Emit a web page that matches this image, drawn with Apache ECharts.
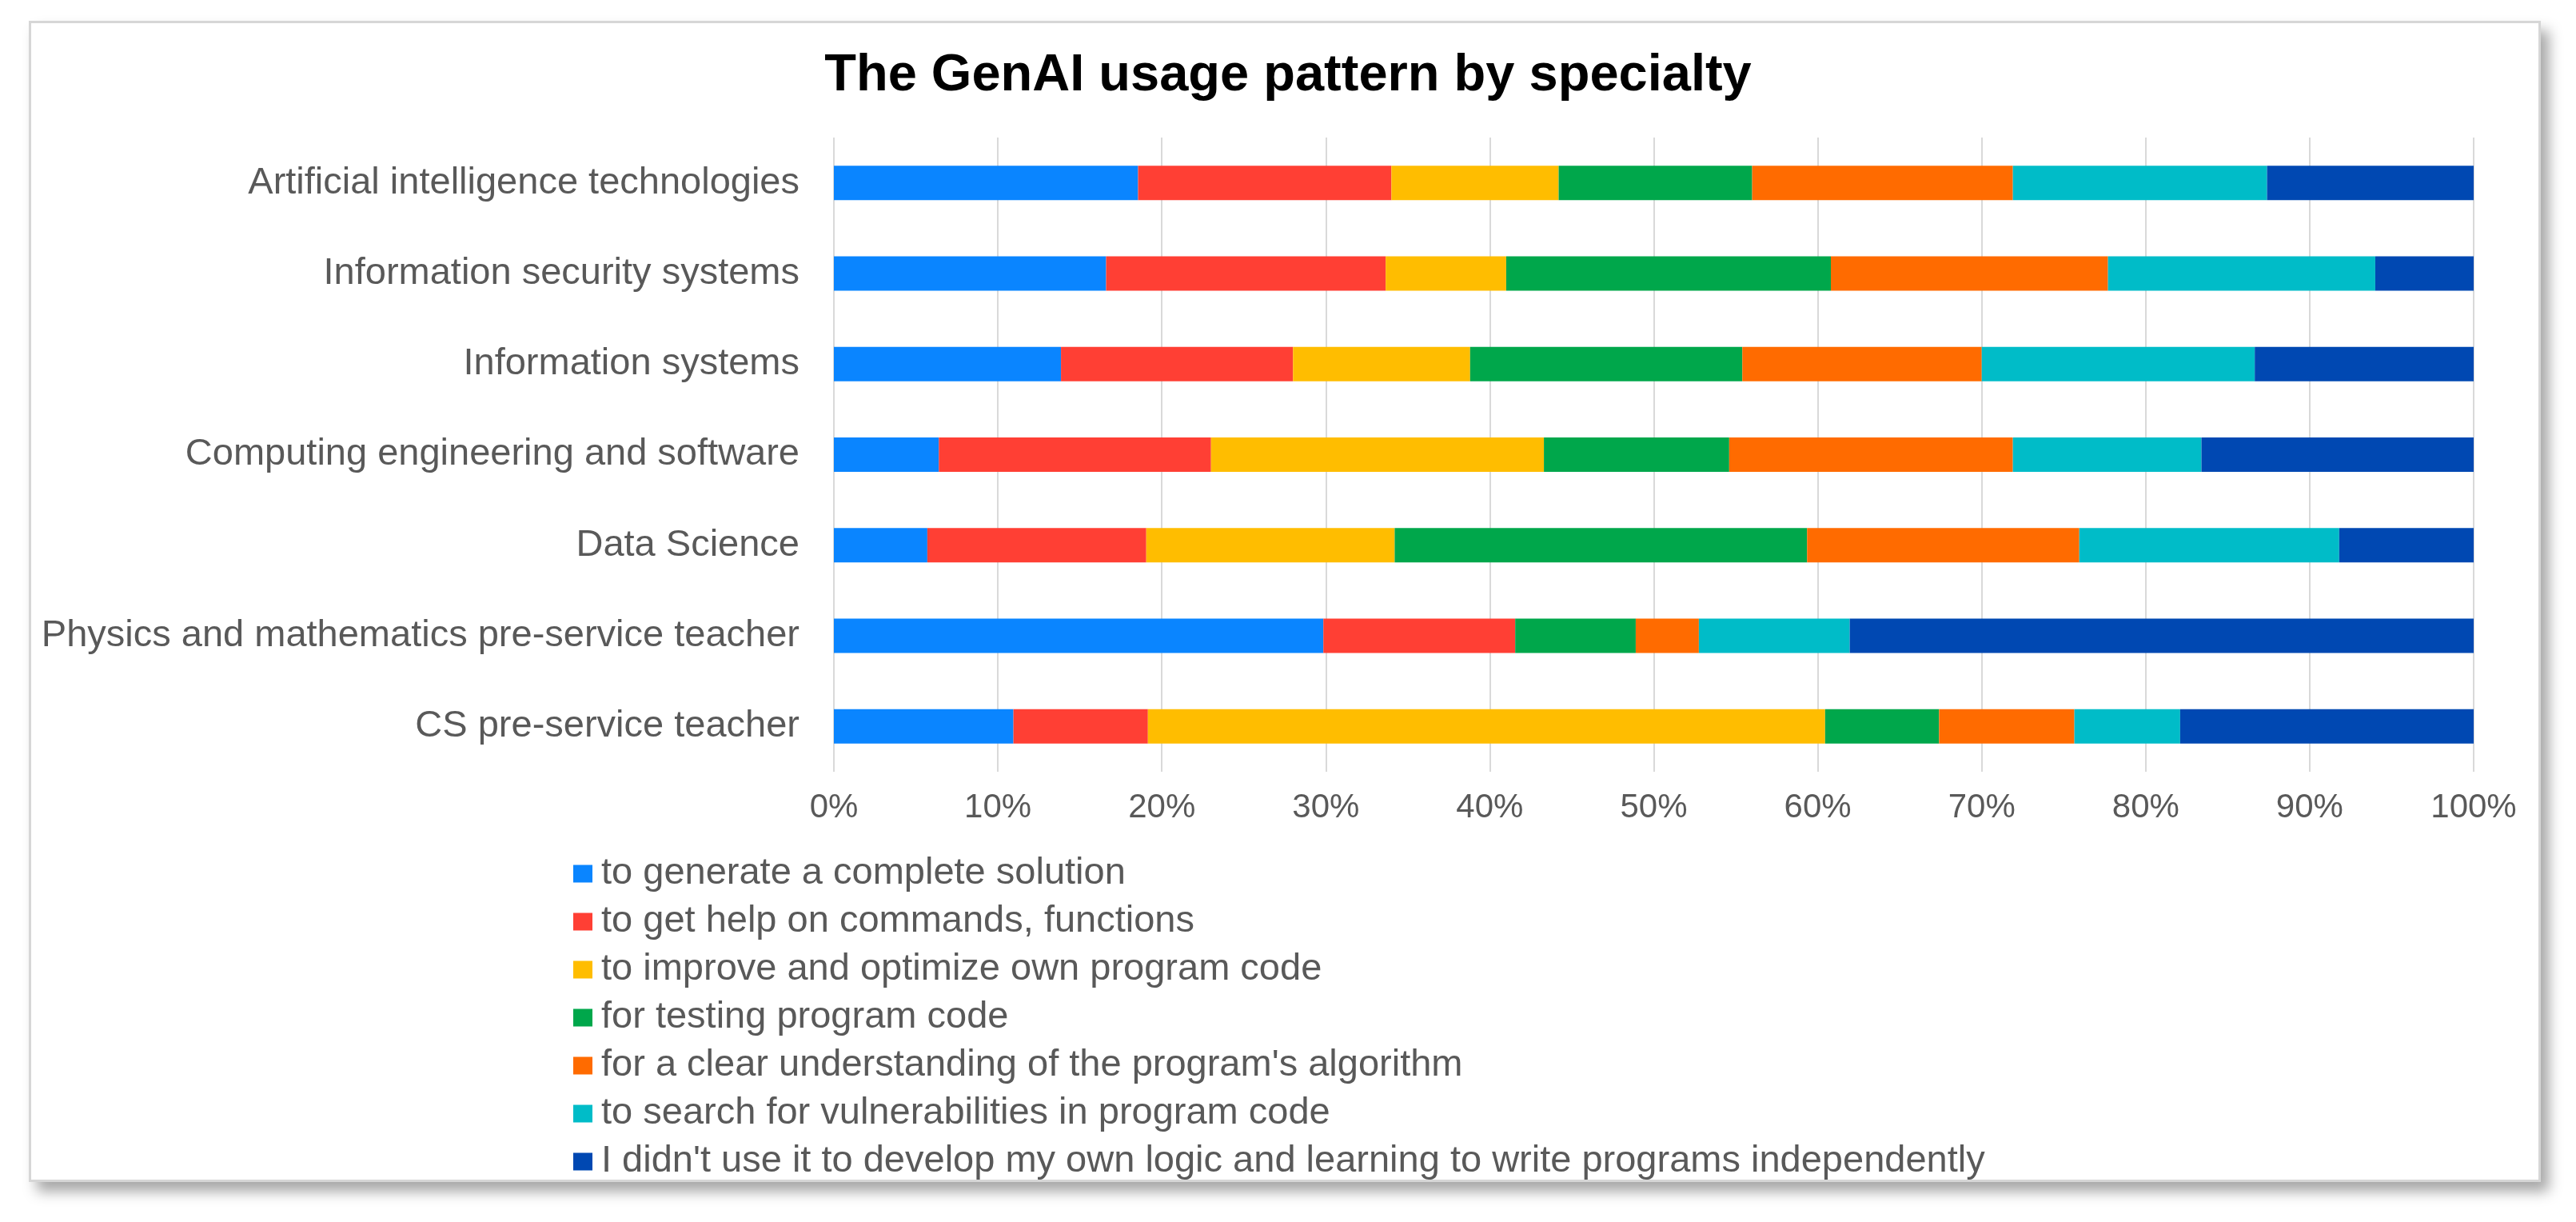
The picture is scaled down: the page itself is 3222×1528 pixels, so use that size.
<!DOCTYPE html>
<html>
<head>
<meta charset="utf-8">
<script src="https://cdn.jsdelivr.net/npm/echarts@6/dist/echarts.min.js"></script>
<style>
  html, body { margin: 0; padding: 0; background: #fff; }
  #frame {
    position: absolute; left: 36px; top: 26px; width: 3136px; height: 1446px;
    border: 3px solid #d6d6d6; background: #fff;
    box-shadow: 10px 12px 16px rgba(0, 0, 0, 0.35);
  }
  #chart { position: absolute; left: 0; top: 0; width: 3222px; height: 1528px; }
</style>
</head>
<body>
<div id="frame"></div>
<div id="chart"></div>
<script>
var categories = [
  'Artificial intelligence technologies',
  'Information security systems',
  'Information systems',
  'Computing engineering and software',
  'Data Science',
  'Physics and mathematics pre-service teacher',
  'CS pre-service teacher'
];

var seriesNames = [
  'to generate a complete solution',
  'to get help on commands, functions',
  'to improve and optimize own program code',
  'for testing program code',
  "for a clear understanding of the program's algorithm",
  'to search for vulnerabilities in program code',
  "I didn't use it to develop my own logic and learning to write programs independently"
];

// share of answers in % per specialty (same order as categories)
var generateSolution = [18.55, 16.6, 13.85, 6.4, 5.7, 29.85, 10.95];
var helpCommands = [15.45, 17.05, 14.15, 16.6, 13.35, 11.7, 8.2];
var improveCode = [10.2, 7.35, 10.8, 20.3, 15.15, 0, 41.3];
var testingCode = [11.8, 19.8, 16.6, 11.3, 25.15, 7.35, 6.95];
var understandAlgorithm = [15.9, 16.9, 14.6, 17.3, 16.6, 3.85, 8.25];
var searchVulnerabilities = [15.5, 16.3, 16.65, 11.5, 15.85, 9.2, 6.45];
var notUsed = [12.6, 6.0, 13.35, 16.6, 8.2, 38.05, 17.9];

var xTicks = [0, 10, 20, 30, 40, 50, 60, 70, 80, 90, 100];

var colors = ['#0a85ff', '#ff3f34', '#ffbd00', '#00a74b', '#ff6b00', '#00bcc8', '#0048b2'];
var values = [generateSolution, helpCommands, improveCode, testingCode,
  understandAlgorithm, searchVulnerabilities, notUsed];

var myChart = echarts.init(document.getElementById('chart'));
var option;

option = {
  backgroundColor: 'transparent',
  animation: false,
  color: colors,
  title: {
    text: 'The GenAI usage pattern by specialty',
    left: 'center',
    top: 63,
    padding: 0,
    textStyle: {
      fontFamily: 'Liberation Sans',
      fontWeight: 'bold',
      fontSize: 65,
      color: '#000'
    }
  },
  legend: {
    orient: 'vertical',
    left: 712,
    top: 1064,
    icon: 'rect',
    itemWidth: 24,
    itemHeight: 22,
    itemGap: 13,
    data: seriesNames,
    textStyle: {
      fontFamily: 'Liberation Sans',
      fontSize: 47,
      lineHeight: 47,
      color: '#595959',
      padding: [0, 0, 0, 6]
    }
  },
  grid: {
    left: 1043,
    right: 128,
    top: 172,
    bottom: 563,
    containLabel: false
  },
  xAxis: {
    type: 'value',
    min: xTicks[0],
    max: xTicks[xTicks.length - 1],
    interval: 10,
    axisLine: { show: false },
    axisTick: { show: false },
    splitLine: { lineStyle: { color: '#d9d9d9', width: 2 } },
    axisLabel: {
      formatter: '{value}%',
      margin: 24,
      fontFamily: 'Liberation Sans',
      fontSize: 42,
      color: '#595959'
    }
  },
  yAxis: {
    type: 'category',
    inverse: true,
    data: categories,
    axisLine: { show: false },
    axisTick: { show: false },
    axisLabel: {
      margin: 43,
      fontFamily: 'Liberation Sans',
      fontSize: 47,
      color: '#595959'
    }
  },
  series: seriesNames.map(function (name, i) {
    return {
      name: name,
      type: 'bar',
      stack: 'total',
      barWidth: 43,
      itemStyle: { color: colors[i] },
      data: values[i]
    };
  })
};

option && myChart.setOption(option);
</script>
</body>
</html>
